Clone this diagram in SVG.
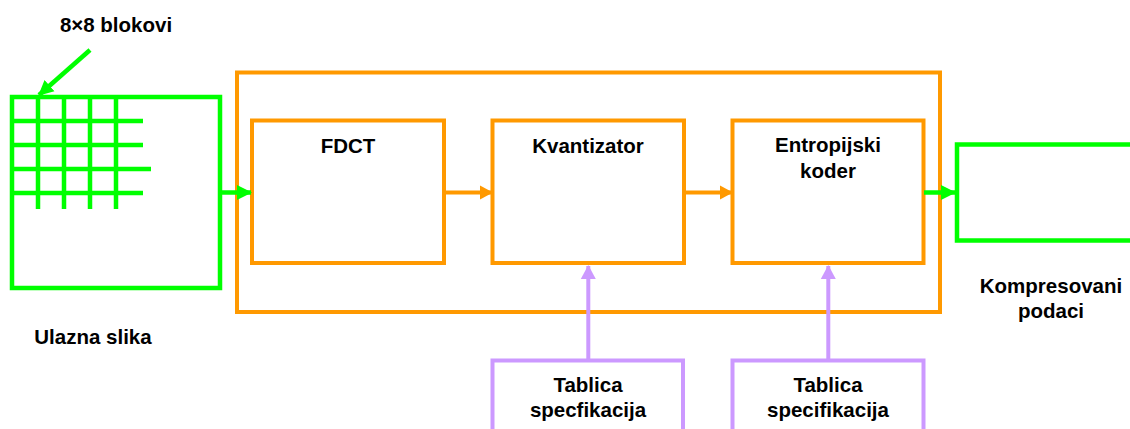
<svg xmlns="http://www.w3.org/2000/svg" width="1130" height="429" viewBox="0 0 1130 429">
<style>
.g{fill:none;stroke:#00FF00;stroke-width:4.5}
.o{fill:none;stroke:#FF9900;stroke-width:4}
.p{fill:none;stroke:#CC99FF;stroke-width:4}
.t{font-family:"Liberation Sans",Arial,sans-serif;font-weight:bold;font-size:20.5px;fill:#000;text-anchor:middle}
</style>
<defs>
<marker id="ag" markerUnits="userSpaceOnUse" markerWidth="16" markerHeight="16" refX="14" refY="8" orient="auto"><path d="M0,0.5 L15,8 L0,15.5 Z" fill="#00FF00"/></marker>
<marker id="ao" markerUnits="userSpaceOnUse" markerWidth="16" markerHeight="16" refX="12" refY="8" orient="auto"><path d="M0,1 L13,8 L0,15 Z" fill="#FF9900"/></marker>
<marker id="ap" markerUnits="userSpaceOnUse" markerWidth="16" markerHeight="16" refX="13" refY="8" orient="auto"><path d="M0,0.5 L14,8 L0,15.5 Z" fill="#CC99FF"/></marker>
</defs>
<rect width="1130" height="429" fill="#fff"/>
<g id="input-image">
<rect class="g" x="12" y="97" width="208" height="191"/>
<path class="g" d="M38,97V209M64,97V209M90,97V209M116,97V209M12,121H143M12,145H143M12,169H151M12,193H143"/>
<text class="t" x="93" y="344">Ulazna slika</text>
</g>
<g id="blocks-label">
<text class="t" x="116" y="32">8×8 blokovi</text>
</g>
<g id="encoder">
<rect class="o" x="237" y="72.5" width="703" height="239.5"/>
</g>
<g id="fdct">
<rect class="o" x="252" y="120.5" width="192" height="142.5"/>
<text class="t" x="348" y="153">FDCT</text>
</g>
<g id="kvantizator">
<rect class="o" x="492.5" y="120.5" width="191.5" height="142.5"/>
<text class="t" x="588" y="153">Kvantizator</text>
</g>
<g id="entropijski-koder">
<rect class="o" x="732.5" y="120.5" width="191" height="142.5"/>
<text class="t" x="828" y="152">Entropijski</text>
<text class="t" x="828" y="178">koder</text>
</g>
<g id="output">
<rect class="g" x="957" y="144.5" width="200" height="96"/>
<text class="t" x="1051" y="293">Kompresovani</text>
<text class="t" x="1051" y="318">podaci</text>
</g>
<g id="table1">
<rect class="p" x="492.5" y="360.5" width="190.5" height="100"/>
<text class="t" x="588" y="392">Tablica</text>
<text class="t" x="588" y="417">specfikacija</text>
</g>
<g id="table2">
<rect class="p" x="732.5" y="360.5" width="191" height="100"/>
<text class="t" x="828" y="392">Tablica</text>
<text class="t" x="828" y="417">specifikacija</text>
</g>
<g id="connectors">
<line class="g" x1="90" y1="50" x2="39" y2="95" marker-end="url(#ag)"/>
<line class="g" x1="220" y1="192.5" x2="251" y2="192.5" marker-end="url(#ag)"/>
<line class="o" x1="444" y1="192.5" x2="492" y2="192.5" marker-end="url(#ao)"/>
<line class="o" x1="684" y1="192.5" x2="732" y2="192.5" marker-end="url(#ao)"/>
<line class="g" x1="924" y1="192.5" x2="955" y2="192.5" marker-end="url(#ag)"/>
<line class="p" x1="588.3" y1="360" x2="588.3" y2="266" marker-end="url(#ap)"/>
<line class="p" x1="828.3" y1="360" x2="828.3" y2="266" marker-end="url(#ap)"/>
</g>
</svg>
